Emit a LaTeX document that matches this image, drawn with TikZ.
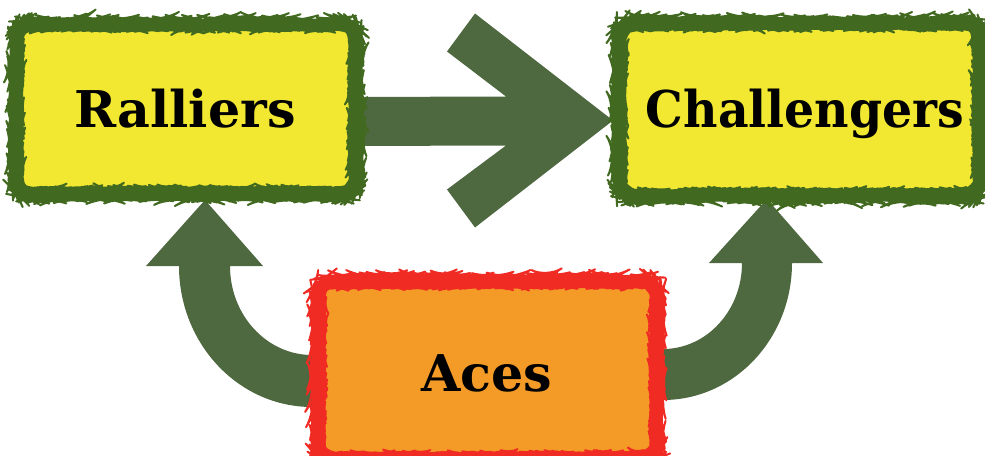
\documentclass[tikz,border=0pt]{standalone}
\usepackage{fontspec}
\setmainfont{DejaVu Serif}
\usetikzlibrary{decorations.pathmorphing,fit,calc}
\definecolor{yel}{HTML}{F2E832}
\definecolor{gbd}{HTML}{41691F}
\definecolor{arrc}{HTML}{4E6840}
\definecolor{ora}{HTML}{F39A27}
\definecolor{redb}{HTML}{F02B24}
\tikzset{
  boxarea/.style={inner sep=0pt, outer sep=0pt},
  solidline/.style={line width=7.5pt, rounded corners=10pt},
  roughedge/.style={line width=1.5pt, line join=round,
    decorate, decoration={random steps, segment length=2.2pt, amplitude=0.6pt}},
  lab/.style={anchor=base, inner sep=0pt, font=\fontsize{38}{40}\selectfont\bfseries},
  arrowfill/.style={fill=arrc}
}
\begin{document}
\begin{tikzpicture}[x=0.75pt,y=-0.75pt]
\useasboundingbox (0,0) rectangle (985,456);
% box areas
\node[boxarea, fit={(17,25)(355,193)}] (R) {};
\node[boxarea, fit={(620,24)(979,195)}] (C) {};
\node[boxarea, fit={(319,282)(656,458)}] (A) {};
% big arrow R -> C
\coordinate (tip) at ($(C.west)+(-7,11)$);
\fill[arrowfill] (R.east |- 0,97) -- ($(tip)+(-107,-24)$) -- ($(tip)+(-166,-69)$)
  -- ($(tip)+(-138,-107)$) -- (tip) -- ($(tip)+(-138,107)$) -- ($(tip)+(-166,69)$)
  -- ($(tip)+(-107,25)$) -- (R.east |- 0,146) -- cycle;
% left curved arrow A -> R
\fill[arrowfill] (179,266) -- (146,266) -- (205,200) -- (263,266) -- (230,266)
  arc[start angle=180, end angle=90, x radius=82, y radius=89]
  -- (A.west |- 0,355) -- (A.west |- 0,407) -- (312,407)
  arc[start angle=90, end angle=180, x radius=133, y radius=141] -- cycle;
% right curved arrow A -> C
\fill[arrowfill] (742,263) -- (709,263) -- (767,199) -- (823,263) -- (792,263)
  arc[start angle=0, end angle=90, x radius=129, y radius=137]
  -- (A.east |- 0,400) -- (A.east |- 0,349) -- (663,349)
  arc[start angle=90, end angle=0, x radius=79, y radius=86] -- cycle;
% boxes
\foreach \b/\fc/\bc in {R/yel/gbd, C/yel/gbd, A/ora/redb}{
  \fill[\fc, rounded corners=10pt] (\b.north west) rectangle (\b.south east);
  \draw[\bc, solidline] (\b.north west) rectangle (\b.south east);
  \draw[\bc, roughedge, rounded corners=13pt] ($(\b.north west)+(-5,-5)$) rectangle ($(\b.south east)+(5,5)$);
  \draw[\bc, roughedge, rounded corners=7pt] ($(\b.north west)+(5,5)$) rectangle ($(\b.south east)+(-5,-5)$);
}
% labels
\node[lab] (Rt) at (185,128) {Ralliers};
\node[lab, xscale=0.935] (Ct) at (805,128) {Challengers};
\node[lab] (At) at (487,391) {Aces};
\end{tikzpicture}
\end{document}
